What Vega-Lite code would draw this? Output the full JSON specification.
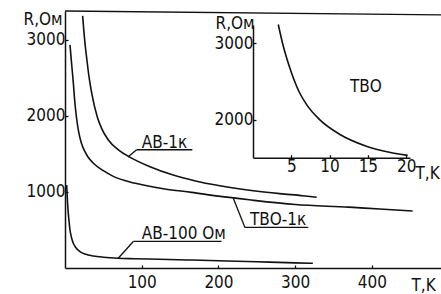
{
  "$schema": "https://vega.github.io/schema/vega-lite/v6.json",
  "width": 376,
  "height": 257,
  "autosize": {"type": "none"},
  "padding": {"left": 65, "top": 11, "right": 0, "bottom": 26},
  "background": "white",
  "config": {
    "view": {"stroke": null},
    "font": "DejaVu Sans Condensed",
    "axis": {
      "grid": false,
      "format": "d",
      "domainColor": "#111",
      "domainWidth": 1.5,
      "tickColor": "#111",
      "tickWidth": 1.3,
      "tickSize": -3,
      "labelColor": "#111",
      "labelFontSize": 17,
      "labelFont": "DejaVu Sans Condensed",
      "titleFont": "DejaVu Sans Condensed",
      "titleFontSize": 17,
      "titleFontWeight": "normal",
      "titleColor": "#111",
      "titleAngle": 0,
      "titleAlign": "left",
      "titleBaseline": "alphabetic",
      "labelFlush": false,
      "labelOverlap": false,
      "labelBound": false
    }
  },
  "datasets": {
    "curves": [
      {"series": "АВ-1к", "T": 23, "R": 3316},
      {"series": "АВ-1к", "T": 26, "R": 2960},
      {"series": "АВ-1к", "T": 28.5, "R": 2740},
      {"series": "АВ-1к", "T": 31.5, "R": 2500},
      {"series": "АВ-1к", "T": 35, "R": 2290},
      {"series": "АВ-1к", "T": 42, "R": 1990},
      {"series": "АВ-1к", "T": 48, "R": 1830},
      {"series": "АВ-1к", "T": 56, "R": 1690},
      {"series": "АВ-1к", "T": 70, "R": 1550},
      {"series": "АВ-1к", "T": 85, "R": 1455},
      {"series": "АВ-1к", "T": 110, "R": 1335},
      {"series": "АВ-1к", "T": 140, "R": 1225},
      {"series": "АВ-1к", "T": 170, "R": 1145},
      {"series": "АВ-1к", "T": 200, "R": 1085},
      {"series": "АВ-1к", "T": 243, "R": 1020},
      {"series": "АВ-1к", "T": 280, "R": 978},
      {"series": "АВ-1к", "T": 310, "R": 950},
      {"series": "АВ-1к", "T": 328, "R": 930},
      {"series": "ТВО-1к", "T": 6.5, "R": 2934},
      {"series": "ТВО-1к", "T": 8.6, "R": 2690},
      {"series": "ТВО-1к", "T": 10.8, "R": 2440},
      {"series": "ТВО-1к", "T": 13, "R": 2160},
      {"series": "ТВО-1к", "T": 15.5, "R": 1940},
      {"series": "ТВО-1к", "T": 18, "R": 1780},
      {"series": "ТВО-1к", "T": 21, "R": 1655},
      {"series": "ТВО-1к", "T": 26, "R": 1530},
      {"series": "ТВО-1к", "T": 30, "R": 1460},
      {"series": "ТВО-1к", "T": 37, "R": 1378},
      {"series": "ТВО-1к", "T": 50, "R": 1280},
      {"series": "ТВО-1к", "T": 63, "R": 1205},
      {"series": "ТВО-1к", "T": 80, "R": 1145},
      {"series": "ТВО-1к", "T": 102, "R": 1092},
      {"series": "ТВО-1к", "T": 130, "R": 1040},
      {"series": "ТВО-1к", "T": 165, "R": 995},
      {"series": "ТВО-1к", "T": 200, "R": 945},
      {"series": "ТВО-1к", "T": 240, "R": 897},
      {"series": "ТВО-1к", "T": 300, "R": 835},
      {"series": "ТВО-1к", "T": 370, "R": 800},
      {"series": "ТВО-1к", "T": 410, "R": 775},
      {"series": "ТВО-1к", "T": 453, "R": 750},
      {"series": "АВ-100 Ом", "T": 2.2, "R": 1092},
      {"series": "АВ-100 Ом", "T": 3.2, "R": 880},
      {"series": "АВ-100 Ом", "T": 4.3, "R": 720},
      {"series": "АВ-100 Ом", "T": 5.4, "R": 600},
      {"series": "АВ-100 Ом", "T": 6.5, "R": 500},
      {"series": "АВ-100 Ом", "T": 8.5, "R": 400},
      {"series": "АВ-100 Ом", "T": 10.8, "R": 325},
      {"series": "АВ-100 Ом", "T": 14, "R": 270},
      {"series": "АВ-100 Ом", "T": 19.5, "R": 215},
      {"series": "АВ-100 Ом", "T": 27, "R": 180},
      {"series": "АВ-100 Ом", "T": 37, "R": 158},
      {"series": "АВ-100 Ом", "T": 50, "R": 142},
      {"series": "АВ-100 Ом", "T": 69, "R": 128},
      {"series": "АВ-100 Ом", "T": 90, "R": 122},
      {"series": "АВ-100 Ом", "T": 110, "R": 118},
      {"series": "АВ-100 Ом", "T": 160, "R": 106},
      {"series": "АВ-100 Ом", "T": 200, "R": 96},
      {"series": "АВ-100 Ом", "T": 250, "R": 82},
      {"series": "АВ-100 Ом", "T": 300, "R": 68},
      {"series": "АВ-100 Ом", "T": 323, "R": 62}
    ],
    "inset": [
      {"T": 3.3, "R": 3240},
      {"T": 3.9, "R": 2980},
      {"T": 5.0, "R": 2620},
      {"T": 6.0, "R": 2370},
      {"T": 7.0, "R": 2200},
      {"T": 8.7, "R": 2005},
      {"T": 11.3, "R": 1815},
      {"T": 14.8, "R": 1660},
      {"T": 17.8, "R": 1582},
      {"T": 20.2, "R": 1540}
    ],
    "labels": [
      {"label": "АВ-1к", "T": 100, "R": 1580},
      {"label": "ТВО-1к", "T": 241, "R": 565},
      {"label": "АВ-100 Ом", "T": 100, "R": 380}
    ],
    "segs": [
      {"x1": 93.4, "y1": 1555, "x2": 166, "y2": 1555},
      {"x1": 82, "y1": 1460, "x2": 93.4, "y2": 1555},
      {"x1": 234.5, "y1": 533, "x2": 317, "y2": 533},
      {"x1": 219.3, "y1": 917, "x2": 234.5, "y2": 533},
      {"x1": 89, "y1": 349, "x2": 204, "y2": 349},
      {"x1": 69.4, "y1": 128, "x2": 89, "y2": 349},
      {"x1": 0, "y1": 3380, "x2": 490, "y2": 3330}
    ],
    "insetLabels": [
      {"label": "ТВО", "T": 12.66, "R": 2368}
    ]
  },
  "layer": [
    {
      "layer": [
        {
          "data": {"name": "curves"},
          "mark": {"type": "line", "interpolate": "monotone", "color": "#111", "strokeWidth": 1.6},
          "encoding": {
            "x": {
              "field": "T", "type": "quantitative",
              "scale": {"domain": [0, 490], "nice": false, "zero": false},
              "axis": {
                "orient": "bottom",
                "values": [100, 200, 300, 400],
                "title": "T,K",
                "titleX": 346, "titleY": 22,
                "titleAngle": 0, "titleAlign": "left", "titleBaseline": "alphabetic",
                "labelPadding": 9,
                "labelDx": 4
              }
            },
            "y": {
              "field": "R", "type": "quantitative",
              "scale": {"domain": [0, 3380], "nice": false, "zero": false},
              "axis": {
                "orient": "left",
                "values": [1000, 2000, 3000],
                "title": "R,Ом",
                "titleX": -42, "titleY": 13.5,
                "titleAngle": 0, "titleAlign": "left", "titleBaseline": "alphabetic",
                "labelPadding": 3
              }
            },
            "detail": {"field": "series", "type": "nominal"}
          }
        },
        {
          "data": {"name": "segs"},
          "mark": {"type": "rule", "color": "#111", "strokeWidth": 1.3},
          "encoding": {
            "x": {"field": "x1", "type": "quantitative"},
            "y": {"field": "y1", "type": "quantitative"},
            "x2": {"field": "x2"},
            "y2": {"field": "y2"}
          }
        },
        {
          "data": {"name": "labels"},
          "mark": {"type": "text", "align": "left", "baseline": "alphabetic", "fontSize": 17, "font": "DejaVu Sans Condensed", "color": "#111"},
          "encoding": {
            "x": {"field": "T", "type": "quantitative"},
            "y": {"field": "R", "type": "quantitative"},
            "text": {"field": "label"}
          }
        }
      ]
    },
    {
      "layer": [
        {
          "data": {"name": "inset"},
          "mark": {"type": "line", "interpolate": "monotone", "color": "#111", "strokeWidth": 1.6},
          "encoding": {
            "x": {
              "field": "T", "type": "quantitative",
              "scale": {"domain": [0, 20.5], "range": [188, 345], "nice": false, "zero": false},
              "axis": {
                "orient": "bottom",
                "offset": -110.3,
                "values": [5, 10, 15, 20],
                "title": "T,K",
                "titleX": 350, "titleY": 20.3,
                "titleAngle": 0, "titleAlign": "left", "titleBaseline": "alphabetic",
                "labelPadding": 4
              }
            },
            "y": {
              "field": "R", "type": "quantitative",
              "scale": {"domain": [1510, 3234], "range": [146.7, 14], "nice": false, "zero": false},
              "axis": {
                "orient": "left",
                "offset": -188,
                "values": [2000, 3000],
                "title": "R,Ом",
                "titleX": -38, "titleY": 17.5,
                "titleAngle": 0, "titleAlign": "left", "titleBaseline": "alphabetic",
                "labelPadding": 3
              }
            }
          }
        },
        {
          "data": {"name": "insetLabels"},
          "mark": {"type": "text", "align": "left", "baseline": "alphabetic", "fontSize": 17, "font": "DejaVu Sans Condensed", "color": "#111"},
          "encoding": {
            "x": {"field": "T", "type": "quantitative"},
            "y": {"field": "R", "type": "quantitative"},
            "text": {"field": "label"}
          }
        }
      ]
    }
  ],
  "resolve": {
    "scale": {"x": "independent", "y": "independent"},
    "axis": {"x": "independent", "y": "independent"}
  }
}
